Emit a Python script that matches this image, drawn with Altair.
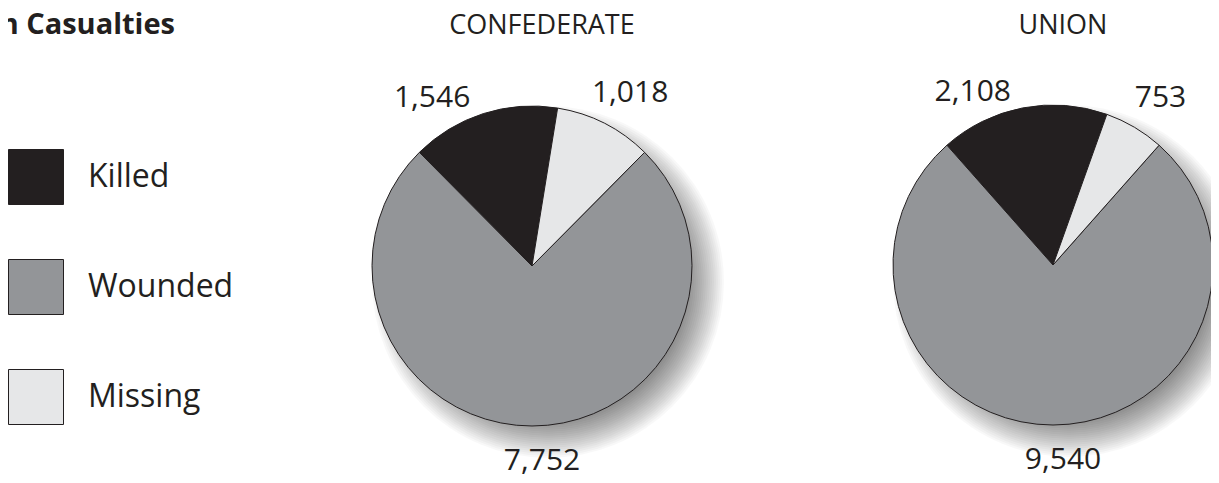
import math
import altair as alt
import pandas as pd

# ---- data ----
categories = ["Killed", "Wounded", "Missing"]
confederate = [1546, 7752, 1018]
union = [2108, 9540, 753]
colors = ["#231f20", "#939598", "#e6e7e8"]
pie_titles = ["CONFEDERATE", "UNION"]
chart_title = "Antietam Casualties"

# ---- style / layout ----
stack_order = ["Wounded", "Killed", "Missing"]
FONT = "Open Sans"
INK = "#231f20"
W, H = 1203, 467
R = 160
centers = [(524, 258), (1045, 257)]
label_style = {  # category: (radius, dx, dy)
    "Killed": (170, -48, 3),
    "Missing": (170, 21, -12),
    "Wounded": (204, 10, 0),
}
shadow_offset = 16
shadow_radii = [138 + 2 * k for k in range(20)]

color_scale = alt.Scale(domain=categories, range=colors)
legend = alt.Legend(
    orient="none", legendX=0, legendY=141, title=None,
    symbolType="square", symbolSize=3025, symbolStrokeColor=INK,
    symbolStrokeWidth=1, symbolOpacity=1,
    labelFont=FONT, labelFontSize=32, labelColor=INK,
    rowPadding=50, labelOffset=24, padding=0, labelLimit=300,
)


def pie(values, title, cx, cy):
    df = pd.DataFrame({
        "category": categories,
        "value": values,
        "ord": [stack_order.index(c) for c in categories],
    })
    total = sum(values)
    wounded = values[categories.index("Wounded")]
    start = math.pi - math.pi * wounded / total
    theta = alt.Theta("value:Q", stack=True,
                      scale=alt.Scale(range=[start, start + 2 * math.pi]))
    base = alt.Chart(df)

    shadows = [
        alt.Chart(pd.DataFrame({"k": [0]})).mark_arc(
            fill="black", fillOpacity=0.028, outerRadius=r,
            theta=0, theta2=2 * math.pi,
        ).encode(x=alt.value(cx + shadow_offset), y=alt.value(cy + shadow_offset))
        for r in shadow_radii
    ]

    arcs = base.mark_arc(outerRadius=R, stroke=INK, strokeWidth=1).encode(
        theta=theta,
        color=alt.Color("category:N", scale=color_scale, legend=legend),
        order=alt.Order("ord:Q"),
        x=alt.value(cx), y=alt.value(cy),
    )

    texts = []
    for cat in categories:
        rad, dx, dy = label_style[cat]
        texts.append(
            base.mark_text(radius=rad, dx=dx, dy=dy, font=FONT, fontSize=30,
                           color=INK, align="center", baseline="alphabetic").encode(
                theta=theta,
                detail="category:N",
                order=alt.Order("ord:Q"),
                text=alt.condition(alt.datum.category == cat,
                                   alt.Text("value:Q", format=","),
                                   alt.value("")),
                x=alt.value(cx), y=alt.value(cy),
            )
        )

    head = alt.Chart(pd.DataFrame({"t": [title]})).mark_text(
        font=FONT, fontSize=27, color=INK, align="center", baseline="alphabetic"
    ).encode(text="t:N", x=alt.value(cx + 10), y=alt.value(26))

    return alt.layer(*shadows, arcs, *texts, head)


title_mark = alt.Chart(pd.DataFrame({"t": [chart_title]})).mark_text(
    font=FONT, fontSize=29, fontWeight="bold", color=INK,
    align="right", baseline="alphabetic"
).encode(text="t:N", x=alt.value(167), y=alt.value(26))

pies = [pie(v, t, cx, cy) for v, t, (cx, cy) in zip([confederate, union], pie_titles, centers)]

chart = alt.layer(title_mark, *pies).resolve_scale(
    theta="independent"
).properties(
    width=W, height=H, padding=0,
    autosize=alt.AutoSizeParams(type="none"),
).configure_view(stroke=None)

chart.save("out.html", embed_options={"renderer": "svg", "actions": False})
